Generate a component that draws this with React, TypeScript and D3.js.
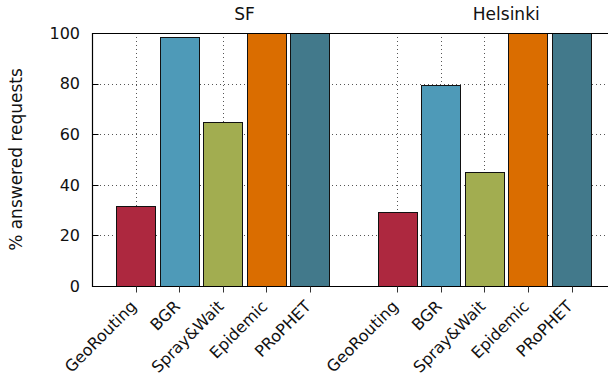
import React, { useEffect, useRef } from "react";
import * as d3 from "d3";

// slot index on the x axis for each bar; index 5 is left empty between the two cities
const methods = ["GeoRouting", "BGR", "Spray&Wait", "Epidemic", "PRoPHET"];
const cities = ["SF", "Helsinki"];
const sfValues = [31.8, 98.5, 64.7, 100, 100];
const helsinkiValues = [29.1, 79.4, 44.9, 100, 100];
const colors = ["#ad283f", "#4e9ab8", "#a2ad50", "#da6d00", "#42798b"];
const yTicks = [0, 20, 40, 60, 80, 100];

export default function App() {
  const ref = useRef<SVGSVGElement>(null);

  useEffect(() => {
    const width = 608;
    const height = 380;
    const margin = { left: 92, top: 33, bottom: 94 };
    const innerH = height - margin.top - margin.bottom;

    const root = d3.select(ref.current);
    root.selectAll("*").remove();
    root.attr("width", width).attr("height", height);

    // the plot area runs past the right edge of the picture
    const x = d3.scaleLinear().domain([-1, 11]).range([margin.left, 615.3]);
    const y = d3.scaleLinear().domain([0, 100]).range([margin.top + innerH, margin.top]);
    const slot = x(1) - x(0);
    const barW = slot * 0.9;

    const bars = [
      ...sfValues.map((v, i) => ({ pos: i, value: v, color: colors[i], label: methods[i] })),
      ...helsinkiValues.map((v, i) => ({ pos: i + 6, value: v, color: colors[i], label: methods[i] })),
    ];

    const font = "DejaVu Sans, sans-serif";

    // grid
    const grid = root.append("g").attr("stroke", "#555").attr("stroke-width", 1).attr("stroke-dasharray", "1,3");
    yTicks.slice(1, -1).forEach((t) => {
      grid.append("line").attr("x1", margin.left).attr("x2", width).attr("y1", Math.round(y(t)) + 0.5).attr("y2", Math.round(y(t)) + 0.5);
    });
    bars.forEach((b) => {
      const cx = Math.round(x(b.pos)) + 0.5;
      grid.append("line").attr("x1", cx).attr("x2", cx).attr("y1", y(100)).attr("y2", y(0));
    });

    // bars
    root
      .append("g")
      .selectAll("rect")
      .data(bars)
      .enter()
      .append("rect")
      .attr("x", (d) => Math.round(x(d.pos) - barW / 2) + 0.5)
      .attr("y", (d) => Math.round(y(d.value)) + 0.5)
      .attr("width", Math.round(barW))
      .attr("height", (d) => Math.round(y(0)) - Math.round(y(d.value)))
      .attr("fill", (d) => d.color)
      .attr("stroke", "#111")
      .attr("stroke-width", 1);

    // spines
    const x0 = margin.left + 0.5;
    const yb = Math.round(y(0)) + 0.5;
    const yt = Math.round(y(100)) + 0.5;
    root.append("path").attr("d", `M${width},${yt}H${x0}V${yb}H${width}`).attr("fill", "none").attr("stroke", "#000").attr("stroke-width", 1.2);

    // y ticks and labels
    yTicks.forEach((t) => {
      const ty = Math.round(y(t)) + 0.5;
      root.append("line").attr("x1", x0).attr("x2", x0 + 6).attr("y1", ty).attr("y2", ty).attr("stroke", "#000");
      root
        .append("text")
        .attr("x", 80)
        .attr("y", y(t))
        .attr("dy", "0.36em")
        .attr("text-anchor", "end")
        .attr("font-family", font)
        .attr("font-size", 16)
        .attr("fill", "#111")
        .text(t);
    });

    // x ticks and labels
    bars.forEach((b) => {
      const cx = Math.round(x(b.pos)) + 0.5;
      root.append("line").attr("x1", cx).attr("x2", cx).attr("y1", yb).attr("y2", yb + 6).attr("stroke", "#333");
      root
        .append("text")
        .attr("transform", `translate(${x(b.pos) - 6},${yb + 13}) rotate(-45)`)
        .attr("dy", "0.7em")
        .attr("text-anchor", "end")
        .attr("font-family", font)
        .attr("font-size", 16)
        .attr("fill", "#111")
        .text(b.label);
    });

    // city titles
    cities.forEach((c, i) => {
      root
        .append("text")
        .attr("x", x(2.5 + i * 6))
        .attr("y", 20)
        .attr("text-anchor", "middle")
        .attr("font-family", font)
        .attr("font-size", 17)
        .attr("fill", "#111")
        .text(c);
    });

    // y axis title
    root
      .append("text")
      .attr("transform", `translate(22,${y(50)}) rotate(-90)`)
      .attr("text-anchor", "middle")
      .attr("font-family", font)
      .attr("font-size", 17)
      .attr("fill", "#111")
      .text("% answered requests");
  }, []);

  return (
    <div style={{ position: "absolute", left: 0, top: 0, width: 608, height: 380, overflow: "hidden", background: "#fff" }}>
      <svg ref={ref}></svg>
    </div>
  );
}
